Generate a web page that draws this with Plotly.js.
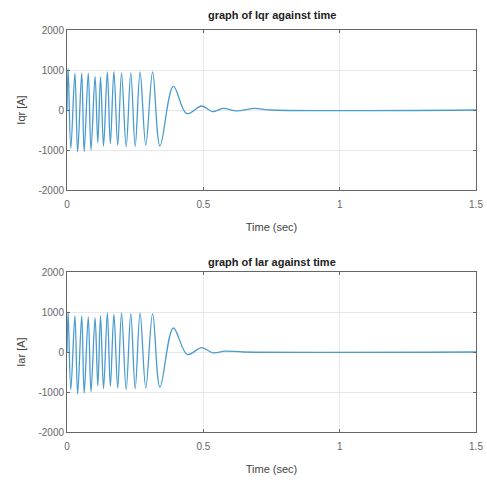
<!DOCTYPE html>
<html>
<head>
<meta charset="utf-8">
<script src="https://cdn.plot.ly/plotly-3.0.1.min.js"></script>
<style>html,body{margin:0;padding:0;background:#fff;}#chart{width:487px;height:486px;}</style>
</head>
<body>
<div id="chart"></div>
<script>
// Iqr: extrema (time in s, current in A)
const tIqr = [0, 0.004, 0.014, 0.029, 0.039, 0.054, 0.063, 0.078, 0.088, 0.103, 0.113, 0.123, 0.134, 0.148, 0.159, 0.172, 0.186, 0.200, 0.217, 0.234, 0.250, 0.268, 0.289, 0.314, 0.341, 0.390, 0.439, 0.494, 0.533, 0.573, 0.622, 0.689, 0.75, 1.5];
const iqr  = [0, 1040, -960, 920, -1050, 920, -1040, 920, -1000, 840, -820, 830, -900, 950, -840, 960, -880, 930, -920, 930, -910, 950, -880, 950, -900, 590, -90, 100, -40, 40, -20, 40, 0, 0];

// Iar: extrema
const tIar = [0, 0.004, 0.014, 0.029, 0.039, 0.054, 0.063, 0.078, 0.088, 0.103, 0.113, 0.123, 0.134, 0.148, 0.159, 0.172, 0.186, 0.200, 0.217, 0.234, 0.250, 0.268, 0.289, 0.314, 0.341, 0.390, 0.441, 0.494, 0.535, 0.58, 0.65, 1.5];
const iar  = [0, 1000, -940, 900, -1050, 900, -1030, 880, -1000, 850, -850, 900, -920, 980, -860, 940, -900, 980, -940, 960, -920, 980, -900, 960, -880, 600, -60, 110, -20, 20, 0, 0];

const xTicks = [0, 0.5, 1, 1.5];
const xTickText = ['0', '0.5', '1', '1.5'];
const yTicks = [-2000, -1000, 0, 1000, 2000];
const yTickText = ['-2000', '-1000', '0', '1000', '2000'];

const titles = ['graph of Iqr against time', 'graph of Iar against time'];
const yLabels = ['Iqr [A]', 'Iar [A]'];
const xLabel = 'Time (sec)';

const lineColor = '#4a9bd0';
const traces = [
  {x: tIqr, y: iqr, type: 'scatter', mode: 'lines', line: {color: lineColor, width: 1.3, shape: 'spline', smoothing: 1}, xaxis: 'x', yaxis: 'y', hoverinfo: 'skip'},
  {x: tIar, y: iar, type: 'scatter', mode: 'lines', line: {color: lineColor, width: 1.3, shape: 'spline', smoothing: 1}, xaxis: 'x2', yaxis: 'y2', hoverinfo: 'skip'}
];

const tickFont = {family: 'Liberation Sans, Arial, sans-serif', size: 10, color: '#666'};
const labFont = {family: 'Liberation Sans, Arial, sans-serif', size: 11, color: '#444'};

function xax(anchor) {
  return {
    anchor: anchor, range: [0, 1.5], tickvals: xTicks, ticktext: xTickText,
    showgrid: true, gridcolor: '#e8e8e8', gridwidth: 1, zeroline: false,
    showline: true, linecolor: '#666', linewidth: 1, mirror: 'ticks',
    ticks: 'inside', ticklen: 3, tickcolor: '#666', tickfont: tickFont,
    ticklabelstandoff: 5,
    title: {text: xLabel, font: labFont, standoff: 14}
  };
}
function yax(anchor, dom, lab) {
  return {
    anchor: anchor, domain: dom, range: [-2000, 2000], tickvals: yTicks, ticktext: yTickText,
    showgrid: true, gridcolor: '#e8e8e8', gridwidth: 1, zeroline: false,
    showline: true, linecolor: '#666', linewidth: 1, mirror: 'ticks',
    ticks: 'inside', ticklen: 3, tickcolor: '#666', tickfont: tickFont,
    title: {text: lab, font: labFont, standoff: 10}
  };
}

const layout = {
  width: 487, height: 486,
  margin: {l: 67, r: 11, t: 30, b: 54},
  paper_bgcolor: '#fff', plot_bgcolor: '#fff',
  showlegend: false,
  xaxis: xax('y'),
  yaxis: yax('x', [0.602, 1], yLabels[0]),
  xaxis2: xax('y2'),
  yaxis2: yax('x2', [0, 0.398], yLabels[1]),
  annotations: [
    {text: '<b>' + titles[0] + '</b>', xref: 'paper', yref: 'paper', x: 0.5, y: 1, yshift: 15, xanchor: 'center', yanchor: 'middle', showarrow: false, font: {family: 'Liberation Sans, Arial, sans-serif', size: 11, color: '#222'}},
    {text: '<b>' + titles[1] + '</b>', xref: 'paper', yref: 'paper', x: 0.5, y: 0.398, yshift: 10, xanchor: 'center', yanchor: 'middle', showarrow: false, font: {family: 'Liberation Sans, Arial, sans-serif', size: 11, color: '#222'}}
  ]
};

Plotly.newPlot('chart', traces, layout, {displayModeBar: false, staticPlot: true});
</script>
</body>
</html>
